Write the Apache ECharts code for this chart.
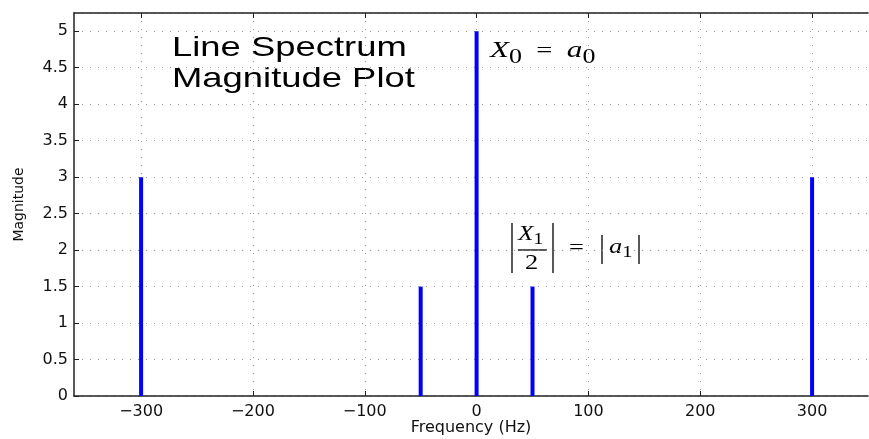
<!DOCTYPE html>
<html>
<head>
<meta charset="utf-8">
<script src="https://cdn.jsdelivr.net/npm/echarts@6/dist/echarts.min.js"></script>
<style>
  html, body { margin: 0; padding: 0; background: #fff; }
  #chart { width: 869px; height: 439px; }
</style>
</head>
<body>
<div id="chart"></div>
<script>
// line spectrum: frequency (Hz) and magnitude
var freqs = [-300, -50, 0, 50, 300];
var mags = [3, 1.5, 5, 1.5, 3];
var xTicks = [-300, -200, -100, 0, 100, 200, 300];

var chart = echarts.init(document.getElementById('chart'));

var stems = freqs.map(function (f, i) { return [f, mags[i]]; });

var gridDots = { show: true, lineStyle: { color: '#9a9a9a', width: 1, type: [1, 7] } };
var labelFont = { color: '#111', fontSize: 16, fontFamily: 'DejaVu Sans, sans-serif' };
var serif = '"Liberation Serif", "DejaVu Serif", serif';

var option = {
  animation: false,
  grid: { left: 74, top: 13, right: 1, bottom: 43, outerBoundsMode: 'none', containLabel: false },
  xAxis: [
    {
      type: 'value',
      min: -360,
      max: 350,
      position: 'bottom',
      name: 'Frequency (Hz)',
      nameLocation: 'middle',
      nameGap: 24,
      nameMoveOverlap: false,
      nameTextStyle: { color: '#111', fontSize: 16, fontFamily: 'DejaVu Sans, sans-serif' },
      axisLine: { show: true, onZero: false, lineStyle: { color: '#222', width: 1.5 } },
      axisTick: { show: true, inside: true, length: 5, customValues: xTicks, lineStyle: { color: '#222' } },
      axisLabel: Object.assign({ customValues: xTicks, margin: 8,
        formatter: function (v) { return v < 0 ? '\u2212' + Math.abs(v) : String(v); } }, labelFont),
      splitLine: gridDots
    },
    {
      type: 'value',
      min: -360,
      max: 350,
      position: 'top',
      axisLine: { show: true, onZero: false, lineStyle: { color: '#222', width: 1.5 } },
      axisTick: { show: true, inside: true, length: 5, customValues: xTicks, lineStyle: { color: '#222' } },
      axisLabel: { show: false },
      splitLine: { show: false }
    }
  ],
  yAxis: {
    type: 'value',
    min: 0,
    max: 5.25,
    interval: 0.5,
    name: 'Magnitude',
    nameLocation: 'middle',
    nameGap: 48,
    nameMoveOverlap: false,
    nameTextStyle: { color: '#111', fontSize: 14, fontFamily: 'DejaVu Sans, sans-serif' },
    axisLine: { show: true, onZero: false, lineStyle: { color: '#222', width: 1.5 } },
    axisTick: { show: true, inside: true, length: 5, lineStyle: { color: '#222' } },
    axisLabel: Object.assign({ showMaxLabel: false, margin: 6 }, labelFont),
    splitLine: gridDots
  },
  series: [
    {
      type: 'bar',
      xAxisIndex: 0,
      data: stems,
      barWidth: 4,
      itemStyle: { color: '#0000ff' },
      z: 5
    }
  ],
  graphic: [
    {
      type: 'text',
      x: 172,
      y: 33,
      scaleX: 1.3,
      style: {
        text: 'Line Spectrum\nMagnitude Plot',
        font: '28px "Liberation Sans", Arial, sans-serif',
        fill: '#000',
        lineHeight: 31
      }
    },
    {
      type: 'text',
      x: 490,
      y: 34,
      scaleX: 1.3,
      style: {
        text: '{i|X}{s|0}{n|  =  }{i|a}{s|0}',
        rich: {
          i: { font: 'italic 24px ' + serif, fill: '#000' },
          s: { font: '20px ' + serif, fill: '#000', padding: [14, 0, 0, 0] },
          n: { font: '22px ' + serif, fill: '#000' }
        }
      }
    },
    {
      type: 'group',
      x: 510,
      y: 221,
      children: [
        { type: 'line', shape: { x1: 2, y1: 2, x2: 2, y2: 52 }, style: { stroke: '#000', lineWidth: 1.3 } },
        { type: 'text', x: 8, y: 0, scaleX: 1.15, style: {
            text: '{i|X}{s|1}',
            rich: {
              i: { font: 'italic 22px ' + serif, fill: '#000' },
              s: { font: '17px ' + serif, fill: '#000', padding: [10, 0, 0, 0] }
            } } },
        { type: 'line', shape: { x1: 8, y1: 29, x2: 37, y2: 29 }, style: { stroke: '#000', lineWidth: 1.3 } },
        { type: 'text', x: 15, y: 31, scaleX: 1.2, style: { text: '2', font: '22px ' + serif, fill: '#000' } },
        { type: 'line', shape: { x1: 43, y1: 2, x2: 43, y2: 52 }, style: { stroke: '#000', lineWidth: 1.3 } },
        { type: 'text', x: 59, y: 16, scaleX: 1.2, style: { text: '=', font: '22px ' + serif, fill: '#000' } },
        { type: 'line', shape: { x1: 92, y1: 14, x2: 92, y2: 43 }, style: { stroke: '#000', lineWidth: 1.3 } },
        { type: 'text', x: 99, y: 13, scaleX: 1.2, style: {
            text: '{i|a}{s|1}',
            rich: {
              i: { font: 'italic 22px ' + serif, fill: '#000' },
              s: { font: '17px ' + serif, fill: '#000', padding: [10, 0, 0, 0] }
            } } },
        { type: 'line', shape: { x1: 129, y1: 14, x2: 129, y2: 43 }, style: { stroke: '#000', lineWidth: 1.3 } }
      ]
    }
  ]
};

chart.setOption(option);
</script>
</body>
</html>
